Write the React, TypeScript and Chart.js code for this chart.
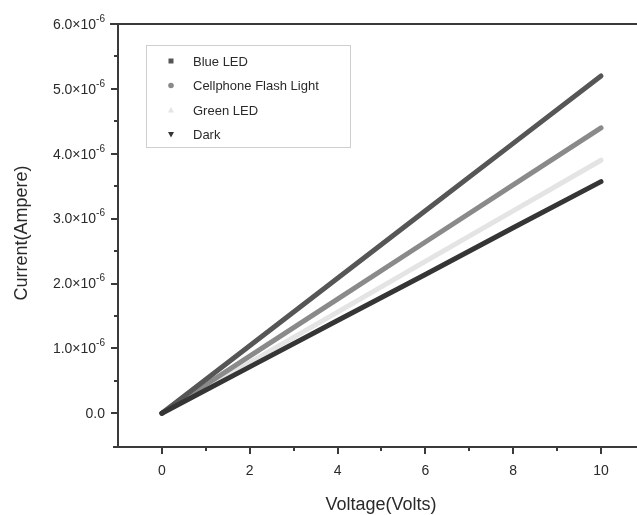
import React, { useEffect, useRef } from "react";
import { Chart, registerables } from "chart.js";

Chart.register(...registerables);

const voltage = [0, 2, 4, 6, 8, 10];
const blueLED = [0, 1.04e-6, 2.08e-6, 3.12e-6, 4.16e-6, 5.2e-6];
const cellphone = [0, 0.88e-6, 1.76e-6, 2.64e-6, 3.52e-6, 4.4e-6];
const greenLED = [0, 0.78e-6, 1.56e-6, 2.34e-6, 3.12e-6, 3.9e-6];
const dark = [0, 0.715e-6, 1.43e-6, 2.14e-6, 2.86e-6, 3.57e-6];

const seriesNames = ["Blue LED", "Cellphone Flash Light", "Green LED", "Dark"];
const seriesColors = ["#565656", "#8a8a8a", "#e4e4e4", "#353535"];
const markerShapes = ["square", "circle", "triangle", "triangleDown"];

const xTicks = [0, 2, 4, 6, 8, 10];
const xMinorTicks = [-1, 1, 3, 5, 7, 9];
const yTicks = [0, 1e-6, 2e-6, 3e-6, 4e-6, 5e-6, 6e-6];
const yTickMantissa = ["0.0", "1.0", "2.0", "3.0", "4.0", "5.0", "6.0"];
const yMinorTicks = [-0.5e-6, 0.5e-6, 1.5e-6, 2.5e-6, 3.5e-6, 4.5e-6, 5.5e-6];

const FONT = '"Liberation Sans", Arial, sans-serif';
const AXIS = "#3a3a3a";
const TEXT = "#2a2a2a";

const axesPlugin = {
  id: "originAxes",
  afterDraw(chart: any) {
    const ctx = chart.ctx as CanvasRenderingContext2D;
    const a = chart.chartArea;
    const xs = chart.scales.x;
    const ys = chart.scales.y;
    ctx.save();
    ctx.strokeStyle = AXIS;
    ctx.lineWidth = 2;
    ctx.beginPath();
    ctx.moveTo(110, a.top);
    ctx.lineTo(a.right, a.top);
    ctx.moveTo(a.left, a.top);
    ctx.lineTo(a.left, a.bottom + 1);
    ctx.moveTo(113, a.bottom);
    ctx.lineTo(a.right, a.bottom);
    ctx.stroke();

    ctx.lineWidth = 2;
    ctx.beginPath();
    xTicks.forEach((v) => {
      const px = Math.round(xs.getPixelForValue(v));
      ctx.moveTo(px, a.bottom);
      ctx.lineTo(px, a.bottom + 7);
    });
    xMinorTicks.forEach((v) => {
      const px = Math.round(xs.getPixelForValue(v));
      if (px <= a.left + 1) return;
      ctx.moveTo(px, a.bottom);
      ctx.lineTo(px, a.bottom + 4);
    });
    yTicks.forEach((v) => {
      const py = Math.round(ys.getPixelForValue(v));
      ctx.moveTo(a.left, py);
      ctx.lineTo(a.left - 7, py);
    });
    yMinorTicks.forEach((v) => {
      const py = Math.round(ys.getPixelForValue(v));
      if (py >= a.bottom - 1) return;
      ctx.moveTo(a.left, py);
      ctx.lineTo(a.left - 4, py);
    });
    ctx.stroke();

    ctx.fillStyle = TEXT;
    ctx.font = `14px ${FONT}`;
    ctx.textAlign = "center";
    ctx.textBaseline = "middle";
    xTicks.forEach((v) => {
      ctx.fillText(String(v), xs.getPixelForValue(v), 471);
    });

    yTicks.forEach((v, i) => {
      const py = ys.getPixelForValue(v);
      const right = 105;
      if (v === 0) {
        ctx.font = `14px ${FONT}`;
        ctx.textAlign = "right";
        ctx.fillText(yTickMantissa[i], right, py + 1);
      } else {
        ctx.font = `10px ${FONT}`;
        const sup = "-6";
        const supW = ctx.measureText(sup).width;
        ctx.textAlign = "left";
        ctx.fillText(sup, right - supW, py - 5);
        ctx.font = `14px ${FONT}`;
        ctx.textAlign = "right";
        ctx.fillText(yTickMantissa[i] + "\u00d710", right - supW, py + 1);
      }
    });

    ctx.font = `18px ${FONT}`;
    ctx.textAlign = "center";
    ctx.fillText("Voltage(Volts)", 381, 505);
    ctx.save();
    ctx.translate(22, 233);
    ctx.rotate(-Math.PI / 2);
    ctx.fillText("Current(Ampere)", 0, 0);
    ctx.restore();

    ctx.strokeStyle = "#cfcfcf";
    ctx.lineWidth = 1;
    ctx.strokeRect(146.5, 45.5, 204, 102);
    const rows = [61, 85.5, 110, 134.5];
    ctx.font = `13px ${FONT}`;
    ctx.textAlign = "left";
    seriesNames.forEach((name, i) => {
      const cx = 171;
      const cy = rows[i];
      ctx.fillStyle = seriesColors[i];
      const s = markerShapes[i];
      ctx.beginPath();
      if (s === "square") {
        ctx.rect(cx - 2.5, cy - 2.5, 5, 5);
      } else if (s === "circle") {
        ctx.arc(cx, cy, 2.8, 0, Math.PI * 2);
      } else if (s === "triangle") {
        ctx.moveTo(cx, cy - 3);
        ctx.lineTo(cx + 3, cy + 2.5);
        ctx.lineTo(cx - 3, cy + 2.5);
        ctx.closePath();
      } else {
        ctx.moveTo(cx, cy + 3);
        ctx.lineTo(cx + 3, cy - 2.5);
        ctx.lineTo(cx - 3, cy - 2.5);
        ctx.closePath();
      }
      ctx.fill();
      ctx.fillStyle = TEXT;
      ctx.fillText(name, 193, cy + 1);
    });
    ctx.restore();
  },
};

export default function App() {
  const ref = useRef<HTMLCanvasElement | null>(null);
  useEffect(() => {
    if (!ref.current) return;
    const series = [blueLED, cellphone, greenLED, dark];
    const datasets = series.map((vals, i) => ({
      label: seriesNames[i],
      data: voltage.map((v, j) => ({ x: v, y: vals[j] })),
      borderColor: seriesColors[i],
      backgroundColor: seriesColors[i],
      borderWidth: 5,
      borderCapStyle: "round" as const,
      pointRadius: 0,
      tension: 0,
      fill: false,
    }));
    // Chart.js paints dataset 0 on top: Dark on top near the origin
    const ordered = [datasets[3], datasets[0], datasets[1], datasets[2]];
    const chart = new Chart(ref.current, {
      type: "line",
      data: { datasets: ordered },
      options: {
        animation: false,
        responsive: false,
        devicePixelRatio: 1,
        layout: { padding: { left: 118, right: 0, top: 24, bottom: 68 } },
        plugins: { legend: { display: false }, tooltip: { enabled: false } },
        scales: {
          x: { type: "linear", min: -1, max: 10.82, display: false },
          y: { type: "linear", min: -0.52e-6, max: 6e-6, display: false },
        },
      },
      plugins: [axesPlugin],
    });
    return () => chart.destroy();
  }, []);
  return (
    <div style={{ position: "fixed", left: 0, top: 0, width: 637, height: 515, background: "#fff", overflow: "hidden" }}>
      <canvas ref={ref} width={637} height={515} style={{ display: "block" }} />
    </div>
  );
}
